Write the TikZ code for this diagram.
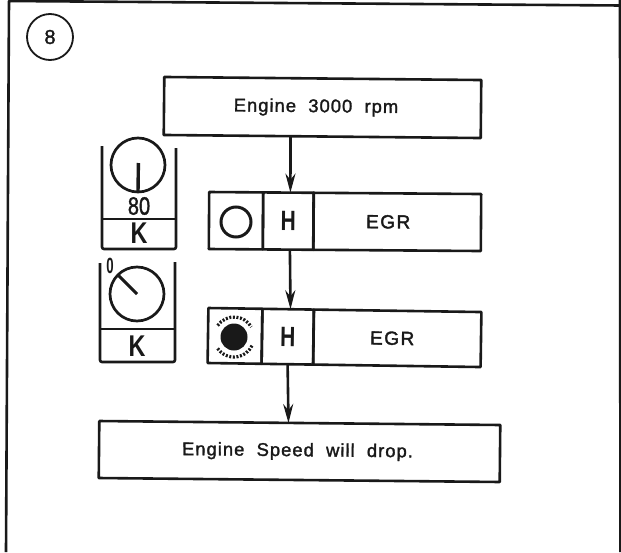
\documentclass[tikz,border=0pt]{standalone}
\usepackage{fontspec}
\setmainfont{Liberation Sans}
\usetikzlibrary{arrows.meta}
\newfontfamily\labelfont[LetterSpace=5.5,WordSpace=2,FakeBold=1.6]{Liberation Sans}
\newfontfamily\egrfont[LetterSpace=8,FakeBold=2]{Liberation Sans}
\newfontfamily\hfont[FakeStretch=0.75]{Liberation Sans Bold}
\newfontfamily\kfont[FakeStretch=0.78]{Liberation Sans Bold}
\newfontfamily\numfont[FakeStretch=0.8,FakeBold=1.5]{Liberation Sans}
\newfontfamily\zerofont[FakeStretch=0.6]{Liberation Sans Bold}
\definecolor{ink}{gray}{0.1}
\tikzset{
  ink line/.style={draw=ink,line width=2.6pt,line join=round},
  boxed/.style={ink line,inner sep=0pt,outer sep=0pt,rectangle,text=ink},
  cell/.style={boxed,minimum height=57pt},
  cellb/.style={boxed,minimum height=55pt,rotate=-0.84},
  conn/.style={draw=ink,line width=2.6pt,-{Stealth[length=19pt,width=10pt]}},
  bare/.style={inner sep=0pt,outer sep=0pt,text=ink},
  dial/.style={circle,draw=ink,line width=2.7pt,minimum size=54pt,inner sep=0pt,outer sep=0pt},
  needle/.style={draw=ink,line width=3.4pt},
  ticks/.style={draw=ink,line width=3.2pt,dash pattern=on 2pt off 1.6pt}
}
\begin{document}
\begin{tikzpicture}[x=1pt,y=-1pt]
\useasboundingbox (0,0) rectangle (621,552);
\clip (0,0) rectangle (621,552);
% frame
\draw[ink line,line width=2.6pt] (6,552) -- (9,1) -- (621,5.5);
\draw[ink line,line width=2.6pt] (620,0) -- (620.4,552);
% number
\node[circle,draw=ink,line width=1.8pt,minimum size=46pt,inner sep=0pt,text=ink] (num) at (50,37) {\fontsize{20}{20}\selectfont\labelfont 8};
% main boxes
\node[boxed,minimum width=317pt,minimum height=58pt,rotate=-0.55] (box1) at (322.5,107.5) {\raisebox{-3pt}{\fontsize{18.4}{18.4}\selectfont\labelfont Engine 3000 rpm}\rule{13pt}{0pt}};
\node[cell,minimum width=54pt,rotate=-0.42] (lampA) at (236,220.7) {};
\node[cell,minimum width=50.6pt,rotate=-0.42] (hA) at (288.3,221.1) {\fontsize{28}{28}\selectfont\hfont H};
\node[cell,minimum width=167.6pt,rotate=-0.42] (egrA) at (397.2,221.9) {\fontsize{19}{19}\selectfont\egrfont EGR\rule{18pt}{0pt}};
\node[cellb,minimum width=54pt] (lampB) at (235,335.9) {};
\node[cellb,minimum width=51.6pt] (hB) at (287.8,336.7) {\fontsize{28}{28}\selectfont\hfont H};
\node[cellb,minimum width=167.6pt] (egrB) at (397.2,338.3) {\fontsize{19}{19}\selectfont\egrfont EGR\rule{10pt}{0pt}};
\node[boxed,minimum width=401pt,minimum height=57pt,rotate=-0.57] (box4) at (299.5,451.5) {\raisebox{-1pt}{\fontsize{18.4}{18.4}\selectfont\labelfont Engine Speed will drop.}\rule{4pt}{0pt}};
% lamps
\node[circle,draw=ink,line width=3pt,minimum size=30pt,inner sep=0pt] (ringA) at (236,222) {};
\node[circle,fill=ink,minimum size=27pt,inner sep=0pt] (dotB) at (234,337) {};
\draw[ticks] (dotB.center) ++(145:20pt) arc[start angle=145,end angle=30,radius=20pt];
\draw[ticks] (dotB.center) ++(215:20pt) arc[start angle=215,end angle=335,radius=20pt];
% connectors
\draw[conn] ([xshift=-31.7pt]box1.south) -- ([xshift=1.9pt]hA.north);
\draw[conn] ([xshift=1.8pt]hA.south) -- ([xshift=2.3pt]hB.north);
\draw[conn] ([xshift=0.2pt]hB.south) -- ([xshift=-11.3pt]box4.north);
% gauge 1
\draw[ink line,rounded corners=2pt] (102,146) -- (102,249) -- (176,249) -- (176,148);
\draw[ink line,line width=2.2pt] (102,219) -- (176,219);
\node[dial] (dialA) at (138,165) {};
\draw[needle] (dialA.south) -- ++(0.4,-29);
\node[bare] (speedA) at (139,206) {\fontsize{25}{25}\selectfont\numfont 80};
\node[bare] (kA) at (139,233.5) {\fontsize{30}{30}\selectfont\kfont K};
% gauge 2
\draw[ink line,rounded corners=2pt] (100,263) -- (100,362) -- (175,362) -- (175,262);
\draw[ink line,line width=2.2pt] (100,329) -- (175,329);
\node[dial] (dialB) at (137,294) {};
\draw[needle,line width=3pt] (dialB.center) -- (dialB.135);
\node[bare] (speedB) at (110,266) {\fontsize{22}{22}\selectfont\zerofont 0};
\node[bare] (kB) at (137,346) {\fontsize{30}{30}\selectfont\kfont K};
\end{tikzpicture}
\end{document}
